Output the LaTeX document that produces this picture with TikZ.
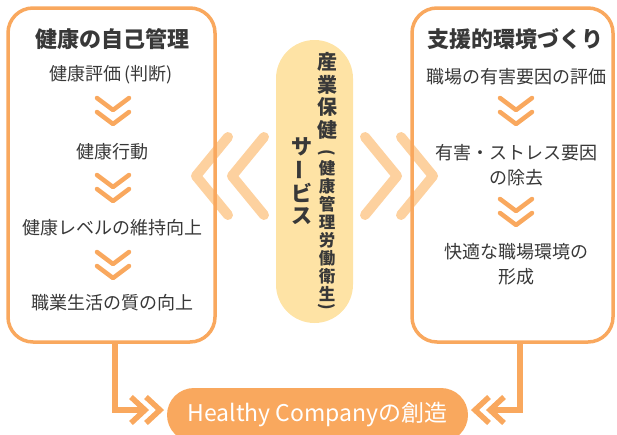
\documentclass[tikz,border=0pt]{standalone}
\usepackage{fontspec}
\setmainfont{Noto Sans CJK JP}
\usetikzlibrary{calc}
\definecolor{org}{HTML}{F9A85E}
\definecolor{lorg}{HTML}{FDD19F}
\definecolor{pillc}{HTML}{FEE3A5}
\definecolor{txt}{HTML}{383838}
\begin{document}
\begin{tikzpicture}[x=1pt,y=-1pt,
  panel/.style={draw=org,line width=3.5pt,rounded corners=25pt,minimum height=334pt,inner sep=0pt},
  ttl/.style={text=txt,font=\fontsize{22}{26}\selectfont\bfseries,inner sep=0pt},
  item/.style={text=txt,font=\fontsize{18}{25}\selectfont,inner sep=0pt,align=center},
  smallchev/.style={draw=org,line width=4.5pt,line cap=round,line join=round},
  bigchev/.style={draw=lorg,line width=10pt,line cap=round,line join=round},
  conn/.style={draw=org,line width=5.5pt,line join=miter},
  vbig/.style={text=txt,font=\fontsize{20}{22}\selectfont\bfseries,inner sep=0pt},
  vsmall/.style={text=txt,font=\fontsize{16.5}{18}\selectfont\bfseries,inner sep=0pt},
  dchev/.pic={\draw[smallchev] (-16,0)--(0,12)--(16,0); \draw[smallchev] (-16,14)--(0,26)--(16,14);}
]
\useasboundingbox (0,0) rectangle (617,434);
% big chevrons
\draw[bigchev] (228,137) -- (196,176) -- (228,215);
\draw[bigchev] (264,137) -- (232,176) -- (264,215);
\draw[bigchev] (365,137) -- (397,176) -- (365,215);
\draw[bigchev] (401,137) -- (433,176) -- (401,215);
% panels
\node[panel,minimum width=207pt] (lbox) at (111.5,175) {};
\node[panel,minimum width=201pt] (rbox) at (512.5,175) {};
% left content
\node[ttl] (lt) at (112,39) {健康の自己管理};
\node[item] (l1) at (111,75) {健康評価\,(判断)};
\pic at (113,98) {dchev};
\node[item] (l2) at (112,152) {健康行動};
\pic at (113,175) {dchev};
\node[item] (l3) at (112,228) {健康レベルの維持向上};
\pic at (113,252) {dchev};
\node[item] (l4) at (112,303) {職業生活の質の向上};
% right content
\node[ttl] (rt) at (515,39) {支援的環境づくり};
\node[item] (r1) at (516,77) {職場の有害要因の評価};
\pic at (516,98) {dchev};
\node[item] (r2) at (516,165.5) {有害・ストレス要因\\の除去};
\pic at (516,199) {dchev};
\node[item] (r3) at (516,264.5) {快適な職場環境の\\形成};
% center pill
\node[fill=pillc,minimum width=77pt,minimum height=283pt,rounded corners=38.5pt,inner sep=0pt] (sv) at (314.5,181.5) {};
\foreach \c [count=\i] in {産,業,保,健}
  \node[vbig] (a\i) at (327,{62+22.7*(\i-1)}) {\c};
\node[vsmall,rotate=-90] (po) at (327,153) {(};
\foreach \c [count=\i] in {健,康,管,理,労,働,衛,生}
  \node[vsmall] (b\i) at (327,{168+18*(\i-1)}) {\c};
\node[vsmall,rotate=-90] (pc) at (327,307) {)};
\node[vbig,font=\fontsize{21}{22}\selectfont\bfseries] (s1) at (302,147) {サ};
\node[vbig,font=\fontsize{21}{22}\selectfont\bfseries,rotate=90] (s2) at (302,170) {ー};
\node[vbig,font=\fontsize{21}{22}\selectfont\bfseries] (s3) at (302,193) {ビ};
\node[vbig,font=\fontsize{21}{22}\selectfont\bfseries] (s4) at (302,216) {ス};
% bottom pill
\node[fill=org,minimum width=301pt,minimum height=54pt,rounded corners=27pt,inner sep=0pt,
  text=white,font=\fontsize{23}{26}\selectfont] (hc) at (317.5,415) {Healthy Companyの創造};
% connectors
\coordinate (lturn) at (115,410);
\coordinate (ltip) at (145,410);
\draw[conn] (lbox.south -| lturn) -- (lturn) -- (ltip);
\draw[conn] ($(ltip)+(-14,-13)$) -- (ltip) -- ($(ltip)+(-14,13)$);
\draw[conn] ($(ltip)+(1,-13)$) -- ($(ltip)+(15,0)$) -- ($(ltip)+(1,13)$);
\coordinate (rturn) at (520,410);
\coordinate (rtip) at (490,410);
\draw[conn] (rbox.south -| rturn) -- (rturn) -- (rtip);
\draw[conn] ($(rtip)+(14,-13)$) -- (rtip) -- ($(rtip)+(14,13)$);
\draw[conn] ($(rtip)+(-1,-13)$) -- ($(rtip)+(-15,0)$) -- ($(rtip)+(-1,13)$);
\end{tikzpicture}
\end{document}
